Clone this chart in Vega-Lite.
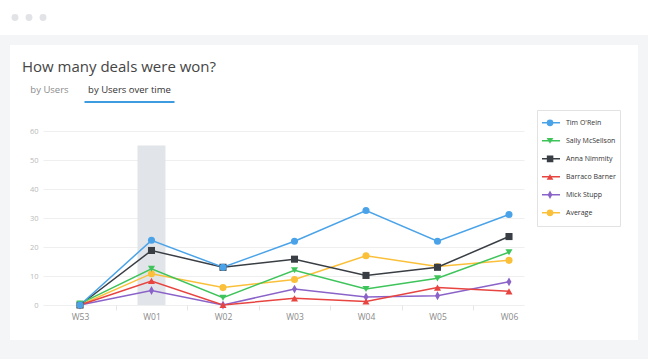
{
  "$schema": "https://vega.github.io/schema/vega-lite/v6.json",
  "background": "#f4f5f7",
  "padding": {"left": 0, "top": 0, "right": 0, "bottom": 19},
  "bounds": "full",
  "center": true,
  "spacing": 10,
  "resolve": {
    "scale": {"color": "independent", "fill": "independent", "shape": "independent"},
    "legend": {"color": "independent", "fill": "independent", "shape": "independent"}
  },
  "config": {"font": "Open Sans", "view": {"stroke": null}},
  "datasets": {
    "deals": [
      {"week": "W53", "series": "Average", "value": 0},
      {"week": "W01", "series": "Average", "value": 10.8},
      {"week": "W02", "series": "Average", "value": 6},
      {"week": "W03", "series": "Average", "value": 8.8},
      {"week": "W04", "series": "Average", "value": 17},
      {"week": "W05", "series": "Average", "value": 13.3},
      {"week": "W06", "series": "Average", "value": 15.4},
      {"week": "W53", "series": "Mick Stupp", "value": 0},
      {"week": "W01", "series": "Mick Stupp", "value": 5},
      {"week": "W02", "series": "Mick Stupp", "value": 0},
      {"week": "W03", "series": "Mick Stupp", "value": 5.5},
      {"week": "W04", "series": "Mick Stupp", "value": 2.8},
      {"week": "W05", "series": "Mick Stupp", "value": 3.2},
      {"week": "W06", "series": "Mick Stupp", "value": 8},
      {"week": "W53", "series": "Barraco Barner", "value": 0},
      {"week": "W01", "series": "Barraco Barner", "value": 8.3},
      {"week": "W02", "series": "Barraco Barner", "value": 0},
      {"week": "W03", "series": "Barraco Barner", "value": 2.3},
      {"week": "W04", "series": "Barraco Barner", "value": 1.2},
      {"week": "W05", "series": "Barraco Barner", "value": 6},
      {"week": "W06", "series": "Barraco Barner", "value": 4.7},
      {"week": "W53", "series": "Anna Nimmity", "value": 0},
      {"week": "W01", "series": "Anna Nimmity", "value": 18.8},
      {"week": "W02", "series": "Anna Nimmity", "value": 13},
      {"week": "W03", "series": "Anna Nimmity", "value": 15.8},
      {"week": "W04", "series": "Anna Nimmity", "value": 10.2},
      {"week": "W05", "series": "Anna Nimmity", "value": 13},
      {"week": "W06", "series": "Anna Nimmity", "value": 23.6},
      {"week": "W53", "series": "Sally McSellson", "value": 0.5},
      {"week": "W01", "series": "Sally McSellson", "value": 12.5},
      {"week": "W02", "series": "Sally McSellson", "value": 2.5},
      {"week": "W03", "series": "Sally McSellson", "value": 12},
      {"week": "W04", "series": "Sally McSellson", "value": 5.5},
      {"week": "W05", "series": "Sally McSellson", "value": 9.2},
      {"week": "W06", "series": "Sally McSellson", "value": 18.2},
      {"week": "W53", "series": "Tim O'Rein", "value": 0},
      {"week": "W01", "series": "Tim O'Rein", "value": 22.3},
      {"week": "W02", "series": "Tim O'Rein", "value": 13},
      {"week": "W03", "series": "Tim O'Rein", "value": 22},
      {"week": "W04", "series": "Tim O'Rein", "value": 32.6},
      {"week": "W05", "series": "Tim O'Rein", "value": 22},
      {"week": "W06", "series": "Tim O'Rein", "value": 31.2}
    ]
  },
  "vconcat": [
    {
      "width": 648,
      "height": 35,
      "view": {"fill": "#ffffff", "stroke": null},
      "data": {"values": [{"d": "1"}, {"d": "2"}, {"d": "3"}]},
      "mark": {"type": "point", "filled": true, "size": 48, "color": "#e1e3e6", "opacity": 1},
      "encoding": {
        "x": {"field": "d", "type": "nominal", "axis": null, "scale": {"type": "point", "range": [15, 43], "padding": 0}}
      }
    },
    {
      "spacing": 0,
      "bounds": "flush",
      "resolve": {
        "scale": {"color": "independent", "fill": "independent", "shape": "independent"},
        "legend": {"color": "independent", "fill": "independent", "shape": "independent"}
      },
      "vconcat": [
        {
          "width": 628,
          "height": 58,
          "view": {"fill": "#ffffff", "stroke": null},
          "title": {
            "text": "How many deals were won?",
            "anchor": "start",
            "frame": "group",
            "orient": "top",
            "offset": -42,
            "dx": 12,
            "fontSize": 15,
            "fontWeight": "normal",
            "color": "#454545",
            "font": "Open Sans",
            "baseline": "alphabetic"
          },
          "data": {"values": [{"tab": "by Users"}, {"tab": "by Users over time"}]},
          "mark": {"type": "point", "opacity": 0},
          "encoding": {
            "x": {
              "field": "tab",
              "type": "nominal",
              "scale": {"type": "point", "domain": ["by Users", "by Users over time", "t3", "t4", "t5", "t6", "t7", "t8"], "range": [13, 615], "padding": 0.2625, "align": 0.619},
              "axis": {
                "orient": "top",
                "offset": -58,
                "title": null,
                "domain": true,
                "domainColor": "#e6e6e6",
                "domainWidth": 1,
                "ticks": true,
                "tickSize": 2.5,
                "tickWidth": {"condition": {"test": "datum.value === 'by Users over time'", "value": 90}, "value": 0},
                "tickCap": "butt",
                "tickColor": {"condition": {"test": "datum.value === 'by Users over time'", "value": "#3d9be0"}, "value": "rgba(0,0,0,0)"},
                "labelColor": {"condition": [{"test": "datum.value === 'by Users over time'", "value": "#333333"}, {"test": "datum.value === 'by Users'", "value": "#8c8c8c"}], "value": "rgba(0,0,0,0)"},
                "labelFontSize": 9.5,
                "labelPadding": 6.5,
                "labelAngle": 0
              }
            }
          }
        },
        {
          "width": 628,
          "height": 237,
          "view": {"fill": "#ffffff", "stroke": null},
          "resolve": {"legend": {"color": "independent", "fill": "independent", "shape": "independent"}},
          "layer": [
            {
              "data": {"values": [{"week": "W01", "value": 55}]},
              "mark": {"type": "bar", "size": 28, "color": "#e1e4e8"},
              "encoding": {
                "x": {"field": "week", "type": "nominal"},
                "y": {"field": "value", "type": "quantitative"}
              }
            },
            {
              "data": {"name": "deals"},
              "mark": {"type": "line", "strokeWidth": 1.5},
              "encoding": {
                "x": {"field": "week", "type": "nominal"},
                "y": {"field": "value", "type": "quantitative"},
                "color": {
                  "field": "series",
                  "type": "nominal",
                  "scale": {
                    "domain": ["Tim O'Rein", "Sally McSellson", "Anna Nimmity", "Barraco Barner", "Mick Stupp", "Average"],
                    "range": ["#4aa3e8", "#3ec45a", "#393e44", "#e84440", "#8a63c9", "#fbc03a"]
                  },
                  "legend": {
                    "orient": "none",
                    "legendX": 527,
                    "legendY": 7,
                    "title": null,
                    "symbolType": "stroke",
                    "symbolSize": 324,
                    "symbolStrokeWidth": 1.5,
                    "labelFontSize": 7,
                    "labelColor": "#333333",
                    "labelOffset": 5,
                    "padding": 4,
                    "strokeColor": "#e2e2e2",
                    "rowPadding": 0,
                    "clipHeight": 17.6
                  }
                }
              }
            },
            {
              "data": {"name": "deals"},
              "mark": {"type": "point", "filled": true, "size": 50, "opacity": 1},
              "encoding": {
                "x": {"field": "week", "type": "nominal"},
                "y": {"field": "value", "type": "quantitative"},
                "fill": {
                  "field": "series",
                  "type": "nominal",
                  "scale": {
                    "domain": ["Tim O'Rein", "Sally McSellson", "Anna Nimmity", "Barraco Barner", "Mick Stupp", "Average"],
                    "range": ["#4aa3e8", "#3ec45a", "#393e44", "#e84440", "#8a63c9", "#fbc03a"]
                  },
                  "legend": null
                },
                "shape": {
                  "field": "series",
                  "type": "nominal",
                  "scale": {
                    "domain": ["Tim O'Rein", "Sally McSellson", "Anna Nimmity", "Barraco Barner", "Mick Stupp", "Average"],
                    "range": ["circle", "triangle-down", "square", "triangle-up", "M0,-1.25L0.7,0L0,1.25L-0.7,0Z", "circle"]
                  },
                  "legend": {
                    "orient": "none",
                    "legendX": 532.5,
                    "legendY": 7,
                    "title": null,
                    "symbolSize": 45,
                    "symbolStrokeWidth": 0,
                    "labelFontSize": 7,
                    "labelExpr": "''",
                    "labelOpacity": 0,
                    "padding": 4,
                    "rowPadding": 0,
                    "clipHeight": 17.6,
                    "symbolFillColor": "#999999",
                    "fillColor": null
                  }
                }
              }
            }
          ],
          "encoding": {
            "x": {
              "field": "week",
              "type": "nominal",
              "scale": {"type": "point", "domain": ["W53", "W01", "W02", "W03", "W04", "W05", "W06"], "range": [33, 514], "padding": 0.3636, "align": 0.7115},
              "axis": {
                "orient": "bottom",
                "offset": -35,
                "title": null,
                "domain": false,
                "grid": false,
                "ticks": true,
                "tickColor": "#e6e6e6",
                "tickSize": 5,
                "tickOffset": 35.75,
                "labelOffset": -35.75,
                "tickOpacity": {"condition": {"test": "datum.value === 'W06'", "value": 0}, "value": 1},
                "labelColor": "#8a8a8a",
                "labelFontSize": 8.5,
                "labelPadding": 2,
                "labelAngle": 0
              }
            },
            "y": {
              "field": "value",
              "type": "quantitative",
              "scale": {"domain": [0, 60], "range": [202, 28], "nice": false, "zero": true},
              "axis": {
                "values": [0, 10, 20, 30, 40, 50, 60],
                "offset": -33,
                "title": null,
                "grid": true,
                "gridColor": "#efefef",
                "domain": false,
                "ticks": false,
                "labelColor": "#bbbbbb",
                "labelFontSize": 7.5,
                "labelPadding": 5
              }
            }
          }
        }
      ]
    }
  ]
}
